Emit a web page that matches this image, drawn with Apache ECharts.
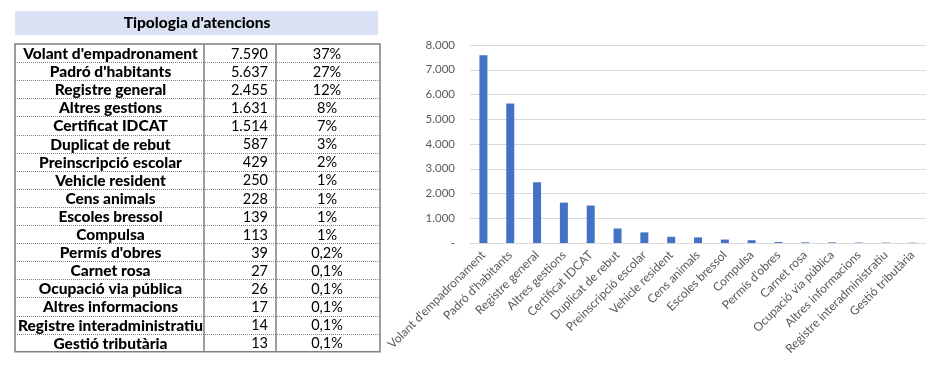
<!DOCTYPE html>
<html><head><meta charset="utf-8">
<script src="https://cdn.jsdelivr.net/npm/echarts@6/dist/echarts.min.js"></script>
<style>html,body{margin:0;padding:0;background:#fff}#c{width:931px;height:370px}</style>
</head><body><div id="c"></div>
<script>
const title = "Tipologia d'atencions";
const categories = ["Volant d'empadronament","Padró d'habitants","Registre general","Altres gestions","Certificat IDCAT","Duplicat de rebut","Preinscripció escolar","Vehicle resident","Cens animals","Escoles bressol","Compulsa","Permís d'obres","Carnet rosa","Ocupació via pública","Altres informacions","Registre interadministratiu","Gestió tributària"];
const values = [7590,5637,2455,1631,1514,587,429,250,228,139,113,39,27,26,17,14,13];
const percents = ["37%","27%","12%","8%","7%","3%","2%","1%","1%","1%","1%","0,2%","0,1%","0,1%","0,1%","0,1%","0,1%"];
const yTicks = [0,1000,2000,3000,4000,5000,6000,7000,8000];

function fmt(v){ if(v===0) return '-'; return String(v).replace(/\B(?=(\d{3})+(?!\d))/g,'.'); }

const chart = echarts.init(document.getElementById('c'), null, {renderer:'canvas'});

// table geometry
const tx0 = 15, tx1 = 380, ty0 = 44, rowH = 18.1, c1 = 204, c2 = 276;
const ty1 = ty0 + rowH*categories.length;
const font = 'Lato, "Open Sans", sans-serif';
const g = [];
g.push({type:'rect', shape:{x:15,y:11,width:363,height:24}, style:{fill:'#D9E1F2'}});
g.push({type:'text', x:197, y:23, style:{text:title, font:'900 15.5px '+font, fill:'#000', align:'center', verticalAlign:'middle'}});
for(let i=1;i<categories.length;i++){
  const y = Math.round(ty0 + rowH*i)+0.5;
  g.push({type:'line', shape:{x1:tx0,y1:y,x2:tx1,y2:y}, style:{stroke:'#7f7f7f', lineWidth:1, lineDash:[1,1]}});
}
g.push({type:'line', shape:{x1:c1,y1:ty0,x2:c1,y2:ty1}, style:{stroke:'#7f7f7f', lineWidth:1.5}});
g.push({type:'line', shape:{x1:c2,y1:ty0,x2:c2,y2:ty1}, style:{stroke:'#7f7f7f', lineWidth:1.5}});
g.push({type:'rect', shape:{x:tx0,y:ty0,width:tx1-tx0,height:ty1-ty0}, style:{fill:null, stroke:'#7f7f7f', lineWidth:1.5}});
categories.forEach((c,i)=>{
  const y = ty0 + rowH*i + rowH/2 + 1;
  g.push({type:'text', x:(tx0+c1)/2+1, y:y, style:{text:c, font:'900 15.5px '+font, fill:'#000', align:'center', verticalAlign:'middle'}});
  g.push({type:'text', x:c2-8, y:y, style:{text:fmt(values[i]), font:'14.5px '+font, fill:'#000', align:'right', verticalAlign:'middle'}});
  g.push({type:'text', x:(c2+tx1)/2-1, y:y, style:{text:percents[i], font:'14.5px '+font, fill:'#000', align:'center', verticalAlign:'middle'}});
});

chart.setOption({
  animation:false,
  textStyle:{fontFamily:font},
  grid:{left:470, right:5, top:45, bottom:127, containLabel:false},
  xAxis:{type:'category', data:categories,
    axisLine:{lineStyle:{color:'#d9d9d9'}}, axisTick:{show:false},
    axisLabel:{rotate:45, interval:0, color:'#595959', fontSize:12, fontFamily:font, margin:10}},
  yAxis:{type:'value', min:yTicks[0], max:yTicks[yTicks.length-1], interval:1000,
    axisLine:{show:false}, axisTick:{show:false},
    axisLabel:{color:'#595959', fontSize:11.5, fontFamily:font, margin:15, formatter:fmt},
    splitLine:{lineStyle:{color:'#d9d9d9'}}},
  series:[{type:'bar', data:values, barWidth:8, itemStyle:{color:'#4472C4'}}],
  graphic:g
});
</script></body></html>
